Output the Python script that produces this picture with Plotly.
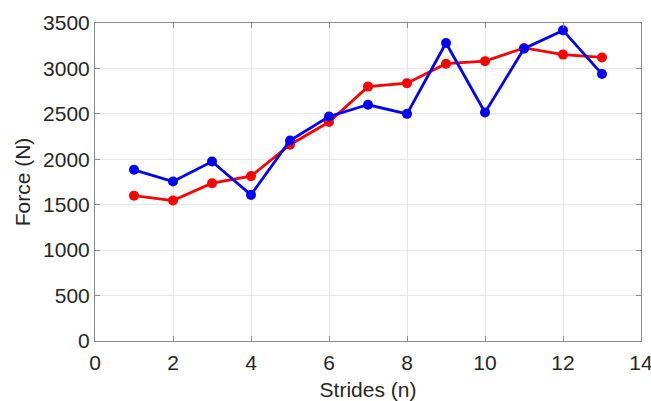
import plotly.graph_objects as go

strides = list(range(1, 14))
force_red = [1600, 1546, 1737, 1815, 2160, 2410, 2800, 2838, 3052, 3080, 3225, 3152, 3121]
force_blue = [1884, 1755, 1975, 1608, 2207, 2471, 2600, 2500, 3280, 2515, 3217, 3419, 2938]

FONT = "Liberation Sans, Arial, Helvetica"

fig = go.Figure()
fig.add_trace(go.Scatter(x=strides, y=force_red, mode="lines+markers",
                         line=dict(color="#ff0000", width=2.8),
                         marker=dict(color="#ff0000", size=10), showlegend=False))
fig.add_trace(go.Scatter(x=strides, y=force_blue, mode="lines+markers",
                         line=dict(color="#0000ff", width=2.8),
                         marker=dict(color="#0000ff", size=10), showlegend=False))

axis_common = dict(showline=True, linecolor="#8c8c8c", linewidth=1, mirror="ticks",
                   ticks="inside", ticklen=5, tickcolor="#8c8c8c",
                   showgrid=True, gridcolor="#e8e8e8", gridwidth=1, zeroline=False,
                   automargin=False, ticklabeloverflow="allow",
                   tickfont=dict(family=FONT, size=21, color="#262626"))

fig.update_xaxes(range=[0, 14], dtick=2, tick0=0, ticklabelstandoff=3,
                 title=dict(text="Strides (n)", standoff=14,
                            font=dict(family=FONT, size=21, color="#262626")),
                 **axis_common)
fig.update_yaxes(range=[0, 3500], dtick=500, tick0=0,
                 title=dict(text="Force (N)", standoff=6,
                            font=dict(family=FONT, size=21, color="#262626")),
                 **axis_common)

fig.update_layout(width=651, height=401, margin=dict(l=95, r=10, t=23, b=60),
                  plot_bgcolor="white", paper_bgcolor="white")

fig.write_html("out.html", config={"displayModeBar": False},
               post_script="document.body.style.margin='0';document.body.style.overflow='hidden';")
